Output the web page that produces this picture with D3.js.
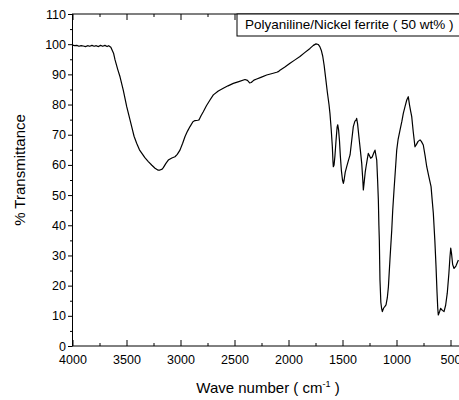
<!DOCTYPE html>
<html>
<head>
<meta charset="utf-8">
<script src="https://cdn.jsdelivr.net/npm/d3@7"></script>
<style>
  body { margin: 0; background: #fff; }
  svg { display: block; font-family: "Liberation Sans", Arial, sans-serif; }
</style>
</head>
<body>
<div id="chart"></div>
<script>
// FTIR spectrum
var waveNumbers = [4000, 3980, 3960, 3940, 3920, 3900, 3880, 3860, 3840, 3820, 3800, 3780, 3760, 3740, 3720, 3700, 3680, 3665, 3645,
  3620, 3606, 3580, 3560, 3530, 3498, 3475, 3452, 3430, 3406, 3380, 3359, 3330, 3298, 3265, 3236, 3210, 3190, 3170, 3159,
  3135, 3113, 3080, 3051, 3030, 3005, 2980, 2958, 2935, 2912, 2885, 2866, 2840, 2829, 2810, 2789, 2760, 2727, 2696, 2650,
  2604, 2560, 2511, 2460, 2403, 2380, 2360, 2345, 2320, 2300, 2250, 2202, 2150, 2109, 2090, 2079, 2030, 1986, 1940, 1894,
  1850, 1801, 1770, 1745, 1725, 1710, 1695, 1683, 1670, 1655, 1640, 1625, 1616, 1605, 1594, 1588, 1585, 1578, 1570, 1560,
  1550, 1544, 1536, 1528, 1520, 1510, 1500, 1492, 1485, 1475, 1461, 1445, 1430, 1415, 1400, 1385, 1375, 1369, 1360, 1350,
  1335, 1322, 1312, 1307, 1300, 1290, 1282, 1270, 1261, 1250, 1239, 1225, 1210, 1199, 1190, 1183, 1175, 1168, 1163, 1159,
  1153, 1145, 1138, 1131, 1120, 1110, 1097, 1085, 1075, 1060, 1044, 1035, 1023, 1010, 998, 985, 967, 950, 937, 920,
  905, 891, 880, 870, 859, 845, 829, 815, 800, 782, 770, 752, 735, 720, 700, 680, 670, 659, 645, 634,
  625, 618, 613, 600, 591, 575, 560, 545, 530, 515, 505, 498, 490, 480, 467, 450, 427];

var transmittance = [99.7, 99.5, 99.6, 99.3, 99.5, 99.4, 99.2, 99.5, 99.3, 99.6, 99.3, 99.5, 99.2, 99.6, 99.3, 99.6, 99.2, 99.5, 99.0,
  97.0, 94.8, 91.5, 89.2, 84.8, 79.3, 76.0, 72.7, 69.5, 67.2, 65.0, 63.9, 62.4, 61.1, 59.9, 58.9, 58.3, 58.3, 58.6, 59.1,
  60.5, 61.6, 62.3, 62.7, 63.5, 64.9, 67.2, 69.4, 71.2, 72.7, 74.3, 74.7, 74.8, 74.9, 76.3, 77.6, 79.6, 81.5, 83.2, 84.5,
  85.4, 86.2, 87.0, 87.6, 88.3, 88.0, 87.2, 87.3, 88.1, 88.4, 89.1, 89.8, 90.3, 90.7, 91.0, 91.4, 92.5, 93.7, 94.8, 95.9,
  97.2, 98.6, 99.6, 100.1, 99.9, 99.2, 97.8, 96.0, 93.0, 88.5, 84.0, 80.0, 77.0, 72.0, 66.0, 61.0, 59.4, 60.0, 63.0, 68.0,
  72.5, 73.3, 71.5, 68.0, 63.0, 58.0, 55.0, 53.9, 55.0, 57.5, 59.4, 61.5, 63.3, 68.0, 72.7, 74.5, 74.8, 75.4, 73.5, 70.0,
  65.0, 60.5, 55.0, 51.7, 54.0, 57.5, 59.4, 62.0, 63.8, 63.0, 62.2, 62.6, 64.0, 64.9, 63.0, 61.6, 55.0, 48.4, 40.0, 35.1,
  21.9, 14.5, 12.5, 11.4, 12.5, 13.0, 13.6, 16.0, 19.6, 29.0, 38.4, 45.0, 51.7, 58.5, 64.9, 68.5, 71.6, 74.5, 77.1, 79.5,
  81.5, 82.6, 80.0, 78.0, 76.0, 71.0, 66.0, 66.8, 67.8, 68.3, 67.8, 66.6, 63.0, 59.4, 56.0, 52.8, 48.5, 44.0, 35.0, 26.3,
  18.0, 12.5, 10.3, 11.5, 12.5, 11.8, 11.4, 13.5, 17.5, 24.0, 29.5, 32.4, 30.5, 27.0, 25.7, 26.5, 28.5];

var xMajorTicks = [4000, 3500, 3000, 2500, 2000, 1500, 1000, 500];
var xMinorTicks = [3750, 3250, 2750, 2250, 1750, 1250, 750];
var yMajorTicks = [0, 10, 20, 30, 40, 50, 60, 70, 80, 90, 100, 110];
var yMinorTicks = [5, 15, 25, 35, 45, 55, 65, 75, 85, 95, 105];

var legendLabel = "Polyaniline/Nickel ferrite ( 50 wt% )";

function drawChart() {
  const width = 459;
  const height = 400;

  const x = d3.scaleLinear().domain([4000, 400]).range([72.5, 461.3]);
  const y = d3.scaleLinear().domain([0, 110]).range([346, 14]);

  const svg = d3
    .select("#chart")
    .append("svg")
    .attr("width", width)
    .attr("height", height);

  /* Frame */
  svg
    .append("rect")
    .attr("x", x(4000))
    .attr("y", y(110))
    .attr("width", x(400) - x(4000))
    .attr("height", y(0) - y(110))
    .attr("fill", "none")
    .attr("stroke", "#000")
    .attr("stroke-width", 1);

  /* Bottom axis, ticks point inward */
  svg
    .append("g")
    .attr("transform", `translate(0,${y(0)})`)
    .call(d3.axisBottom(x).tickValues(xMinorTicks).tickSizeInner(-3).tickSizeOuter(0).tickFormat(""))
    .call((g) => g.select(".domain").remove());

  svg
    .append("g")
    .attr("transform", `translate(0,${y(0)})`)
    .call(d3.axisBottom(x).tickValues(xMajorTicks).tickSizeInner(-6).tickSizeOuter(0).tickPadding(9.5).tickFormat(d3.format("d")))
    .call((g) => g.select(".domain").remove())
    .call((g) => g.selectAll("text").attr("font-size", 12.5).attr("font-family", null).attr("fill", "#000"));

  /* Top axis, no labels */
  svg
    .append("g")
    .attr("transform", `translate(0,${y(110)})`)
    .call(d3.axisTop(x).tickValues(xMinorTicks).tickSizeInner(-3).tickSizeOuter(0).tickFormat(""))
    .call((g) => g.select(".domain").remove());

  svg
    .append("g")
    .attr("transform", `translate(0,${y(110)})`)
    .call(d3.axisTop(x).tickValues(xMajorTicks).tickSizeInner(-6).tickSizeOuter(0).tickFormat(""))
    .call((g) => g.select(".domain").remove());

  /* Left axis, ticks point outward */
  svg
    .append("g")
    .attr("transform", `translate(${x(4000)},0)`)
    .call(d3.axisLeft(y).tickValues(yMinorTicks).tickSizeInner(2.5).tickSizeOuter(0).tickFormat(""))
    .call((g) => g.select(".domain").remove());

  svg
    .append("g")
    .attr("transform", `translate(${x(4000)},0)`)
    .call(d3.axisLeft(y).tickValues(yMajorTicks).tickSizeInner(4.5).tickSizeOuter(0).tickPadding(2).tickFormat(d3.format("d")))
    .call((g) => g.select(".domain").remove())
    .call((g) => g.selectAll("text").attr("font-size", 12.5).attr("font-family", null).attr("fill", "#000"));

  /* Spectrum */
  const line = d3
    .line()
    .x((d) => x(d[0]))
    .y((d) => y(d[1]));

  svg
    .append("path")
    .datum(d3.zip(waveNumbers, transmittance))
    .attr("fill", "none")
    .attr("stroke", "#000")
    .attr("stroke-width", 1.2)
    .attr("stroke-linejoin", "round")
    .attr("d", line);

  /* Legend box */
  svg
    .append("rect")
    .attr("x", 237)
    .attr("y", y(110))
    .attr("width", 240)
    .attr("height", 22)
    .attr("fill", "#fff")
    .attr("stroke", "#000")
    .attr("stroke-width", 1);

  svg
    .append("text")
    .attr("x", 245)
    .attr("y", 28.5)
    .attr("font-size", 13.5)
    .text(legendLabel);

  /* Axis titles */
  const xTitle = svg
    .append("text")
    .attr("x", 268)
    .attr("y", 393)
    .attr("text-anchor", "middle")
    .attr("font-size", 15);
  xTitle.append("tspan").text("Wave number ( cm");
  xTitle.append("tspan").attr("font-size", 9).attr("dy", -6).text("-1");
  xTitle.append("tspan").attr("dy", 6).text(" )");

  svg
    .append("text")
    .attr("transform", "translate(25,170) rotate(-90)")
    .attr("text-anchor", "middle")
    .attr("font-size", 15)
    .text("% Transmittance");
}

drawChart();
</script>
</body>
</html>
